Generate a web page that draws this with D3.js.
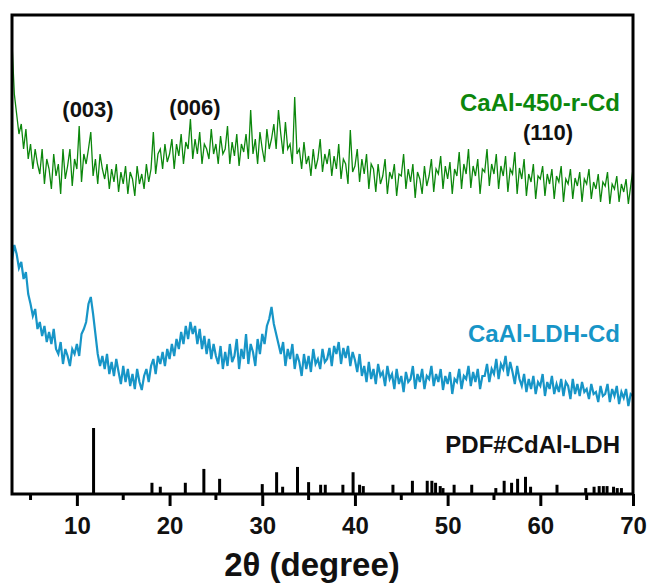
<!DOCTYPE html>
<html>
<head>
<meta charset="utf-8">
<script src="https://cdn.jsdelivr.net/npm/d3@7"></script>
<style>
  body { margin: 0; background: #fff; }
  svg { display: block; font-family: Arial, "Liberation Sans", sans-serif; }
</style>
</head>
<body>
<div id="chart"></div>
<script>
//DATA
// scan grid: 3.0 -> 70.0 deg, step 0.25
const scanStart = 3;
const scanStep = 0.25;

// CaAl-450-r-Cd (a.u.)
const calcined = [
  451, 400, 380, 360,
  370, 345, 365, 335,
  350, 325, 345, 330,
  320, 345, 310, 335,
  325, 305, 340, 318,
  330, 300, 345, 315,
  328, 345, 308, 335,
  325, 368, 312, 340,
  330, 345, 362, 318,
  335, 310, 340, 325,
  315, 330, 305, 325,
  312, 330, 302, 322,
  310, 328, 300, 322,
  315, 298, 328, 310,
  320, 305, 330, 312,
  325, 362, 320, 340,
  345, 325, 350, 332,
  340, 355, 325, 350,
  338, 360, 330, 352,
  345, 375, 335, 355,
  340, 362, 330, 350,
  345, 335, 365, 340,
  350, 330, 358, 340,
  345, 368, 330, 352,
  338, 360, 328, 350,
  342, 360, 335, 384,
  340, 355, 330, 362,
  345, 332, 365, 345,
  355, 370, 345, 384,
  360, 340, 372, 345,
  350, 330, 397, 340,
  345, 325, 352, 330,
  338, 318, 345, 325,
  335, 355, 322, 340,
  330, 345, 318, 338,
  325, 350, 315, 335,
  330, 310, 364, 322,
  328, 345, 312, 335,
  320, 340, 305, 330,
  325, 302, 330, 310,
  318, 335, 300, 322,
  315, 330, 298, 320,
  318, 340, 305, 325,
  312, 330, 296, 322,
  315, 300, 328, 308,
  318, 335, 302, 325,
  320, 338, 305, 328,
  315, 332, 300, 325,
  318, 342, 305, 330,
  320, 345, 306, 328,
  318, 335, 300, 325,
  322, 345, 308, 330,
  320, 340, 305, 328,
  318, 338, 302, 325,
  320, 342, 300, 326,
  315, 335, 298, 320,
  312, 330, 295, 318,
  315, 328, 298, 320,
  310, 325, 295, 318,
  312, 328, 292, 315,
  310, 325, 295, 316,
  308, 322, 292, 315,
  310, 325, 295, 312,
  305, 320, 292, 312,
  308, 322, 290, 310,
  305, 318, 292, 310,
  302, 315, 290, 308,
  325
];

// CaAl-LDH-Cd (a.u.)
const ldh = [
  234, 249, 240, 226,
  232, 215, 222, 200,
  190, 178, 185, 165,
  172, 158, 168, 152,
  162, 150, 165, 145,
  140, 152, 130, 145,
  138, 128, 145, 140,
  150, 138, 160, 165,
  172, 190, 197, 180,
  160, 140, 128, 138,
  125, 140, 120, 132,
  118, 135, 122, 110,
  128, 112, 125, 108,
  120, 105, 125, 112,
  104, 118, 125, 112,
  128, 135, 120, 138,
  130, 142, 128, 145,
  135, 150, 138, 155,
  145, 162, 150, 168,
  155, 172, 160, 168,
  150, 165, 145, 158,
  140, 155, 135, 150,
  138, 130, 148, 125,
  142, 128, 150, 132,
  138, 155, 125, 145,
  135, 160, 130, 150,
  142, 128, 155, 140,
  160, 150, 168, 175,
  187, 170, 160, 150,
  140, 152, 128, 145,
  135, 150, 125, 140,
  132, 118, 140, 125,
  138, 122, 145, 130,
  135, 125, 145, 132,
  135, 146, 128, 148,
  140, 152, 130, 146,
  136, 148, 128, 142,
  134, 122, 140, 118,
  128, 112, 132, 115,
  125, 110, 130, 118,
  122, 108, 128, 115,
  120, 105, 125, 110,
  118, 102, 122, 112,
  115, 128, 105, 120,
  112, 125, 105, 118,
  115, 128, 108, 120,
  112, 125, 104, 118,
  110, 122, 100, 115,
  112, 125, 105, 118,
  115, 128, 108, 122,
  112, 125, 105, 118,
  118, 130, 112, 125,
  120, 135, 115, 130,
  125, 138, 118, 132,
  122, 110, 128, 115,
  108, 120, 102, 115,
  105, 118, 100, 112,
  108, 120, 98, 112,
  105, 118, 100, 110,
  102, 115, 98, 112,
  108, 95, 115, 100,
  110, 98, 112, 102,
  105, 95, 110, 100,
  102, 92, 108, 98,
  100, 110, 92, 105,
  98, 108, 90, 102,
  96, 105, 88, 100,
  98
];

// PDF#CdAl-LDH reference lines
const pdfPos = [11.8, 18.1, 19.0, 21.7, 23.7, 25.4, 30.0, 31.55, 32.2, 33.8, 35.0, 36.3, 36.8,
  38.7, 39.8, 40.5, 40.9, 44.1, 46.2, 47.8, 48.3, 48.7, 49.2, 49.5, 50.7, 52.6, 55.2, 56.1,
  56.9, 57.55, 58.4, 58.95, 61.8, 64.9, 65.8, 66.35, 66.8, 67.2, 67.9, 68.3, 68.75];
const pdfInt = [100, 17, 11, 17, 38, 23, 15, 33, 11, 41, 18, 14, 14,
  14, 33, 14, 12, 14, 20, 20, 20, 17, 12, 9, 14, 14, 9, 20,
  17, 23, 26, 11, 14, 9, 11, 12, 12, 12, 11, 9, 9];

const xTicks = [10, 20, 30, 40, 50, 60, 70];
const xMinor = [5, 15, 25, 35, 45, 55, 65];

const hkl = [
  { text: "(003)", x: 88, y: 117 },
  { text: "(006)", x: 195, y: 115 },
  { text: "(110)", x: 548, y: 140 }
];

//COLORS
const COLORS = {
  calcined: "#0c870c",
  ldh: "#1795c7",
  pdf: "#000"
};

//INIT
const width = 652, height = 588;
const margin = { top: 15, right: 19, bottom: 94, left: 12 };

const svg = d3.select("#chart")
  .append("svg")
  .attr("width", width)
  .attr("height", height);

const x = d3.scaleLinear()
  .domain([3, 70])
  .range([margin.left, width - margin.right]);

const y = d3.scaleLinear()
  .domain([0, 479])
  .range([height - margin.bottom, margin.top]);

const stickH = d3.scaleLinear()
  .domain([0, 100])
  .range([0, 66]);

const angle = i => scanStart + i * scanStep;

//CURVES
const line = d3.line()
  .x((d, i) => x(angle(i)))
  .y(d => y(d));

svg.append("path")
  .datum(calcined)
  .attr("d", line)
  .attr("fill", "none")
  .attr("stroke", COLORS.calcined)
  .attr("stroke-width", 1.3);

svg.append("path")
  .datum(ldh)
  .attr("d", line)
  .attr("fill", "none")
  .attr("stroke", COLORS.ldh)
  .attr("stroke-width", 2.2);

//STICKS
svg.append("g")
  .selectAll("line")
  .data(pdfPos)
  .enter()
  .append("line")
  .attr("x1", d => x(d))
  .attr("x2", d => x(d))
  .attr("y1", y(0))
  .attr("y2", (d, i) => y(0) - stickH(pdfInt[i]))
  .attr("stroke", COLORS.pdf)
  .attr("stroke-width", 3);

//AXES
const xAxis = svg.append("g")
  .attr("transform", `translate(0,${y(0)})`)
  .call(d3.axisBottom(x).tickValues(xTicks).tickSize(12).tickPadding(11).tickFormat(d3.format("d")));
xAxis.select(".domain").remove();
xAxis.selectAll(".tick line").attr("stroke", "#000").attr("stroke-width", 3);
xAxis.selectAll(".tick text")
  .attr("font-size", 24)
  .attr("font-weight", "bold")
  .attr("font-family", "Arial, 'Liberation Sans', sans-serif")
  .attr("fill", "#111");

svg.append("g")
  .selectAll("line")
  .data(xMinor)
  .enter()
  .append("line")
  .attr("x1", d => x(d))
  .attr("x2", d => x(d))
  .attr("y1", y(0))
  .attr("y2", y(0) + 6)
  .attr("stroke", "#000")
  .attr("stroke-width", 3);

// frame
svg.append("rect")
  .attr("x", x(3))
  .attr("y", y(479))
  .attr("width", x(70) - x(3))
  .attr("height", y(0) - y(479))
  .attr("fill", "none")
  .attr("stroke", "#000")
  .attr("stroke-width", 3);

svg.append("text")
  .attr("x", 312)
  .attr("y", 576)
  .attr("text-anchor", "middle")
  .attr("font-size", 33)
  .attr("font-weight", "bold")
  .attr("fill", "#111")
  .text("2θ (degree)");

//LABELS
const labels = [
  { text: "CaAl-450-r-Cd", y: 111, color: COLORS.calcined },
  { text: "CaAl-LDH-Cd", y: 342, color: COLORS.ldh },
  { text: "PDF#CdAl-LDH", y: 453, color: "#111" }
];

svg.append("g")
  .selectAll("text")
  .data(labels)
  .enter()
  .append("text")
  .attr("x", 620)
  .attr("y", d => d.y)
  .attr("text-anchor", "end")
  .attr("font-size", 24)
  .attr("font-weight", "bold")
  .attr("fill", d => d.color)
  .text(d => d.text);

svg.append("g")
  .selectAll("text")
  .data(hkl)
  .enter()
  .append("text")
  .attr("x", d => d.x)
  .attr("y", d => d.y)
  .attr("text-anchor", "middle")
  .attr("font-size", 22)
  .attr("font-weight", "bold")
  .attr("fill", "#111")
  .text(d => d.text);
</script>
</body>
</html>
